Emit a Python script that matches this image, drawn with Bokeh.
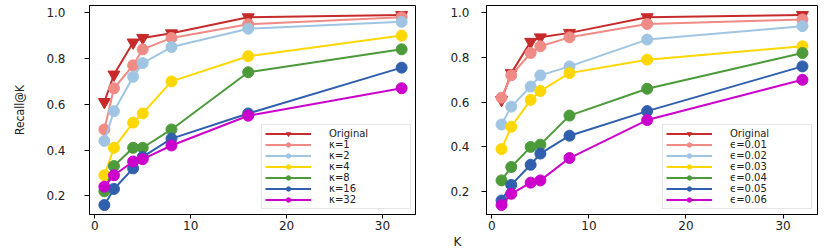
from bokeh.plotting import figure
from bokeh.layouts import row
from bokeh.models import Legend, LegendItem, Title, FixedTicker, Range1d, NumeralTickFormatter
from bokeh.embed import file_html
from bokeh.resources import INLINE

K = [1, 2, 4, 5, 8, 16, 32]

# Left panel (kappa)
left_labels = ["Original", "κ=1", "κ=2", "κ=4", "κ=8", "κ=16", "κ=32"]
left_original = [0.61, 0.73, 0.87, 0.89, 0.91, 0.98, 0.99]
left_k1 = [0.49, 0.67, 0.77, 0.84, 0.89, 0.95, 0.98]
left_k2 = [0.44, 0.57, 0.72, 0.78, 0.85, 0.93, 0.96]
left_k4 = [0.29, 0.41, 0.52, 0.56, 0.70, 0.81, 0.90]
left_k8 = [0.22, 0.33, 0.41, 0.41, 0.49, 0.74, 0.84]
left_k16 = [0.16, 0.23, 0.32, 0.37, 0.45, 0.56, 0.76]
left_k32 = [0.24, 0.29, 0.35, 0.36, 0.42, 0.55, 0.67]

# Right panel (epsilon)
right_labels = ["Original", "ϵ=0.01", "ϵ=0.02", "ϵ=0.03", "ϵ=0.04", "ϵ=0.05", "ϵ=0.06"]
right_original = [0.61, 0.73, 0.87, 0.89, 0.91, 0.98, 0.99]
right_e1 = [0.62, 0.72, 0.82, 0.85, 0.89, 0.95, 0.97]
right_e2 = [0.50, 0.58, 0.67, 0.72, 0.76, 0.88, 0.94]
right_e3 = [0.39, 0.49, 0.61, 0.65, 0.73, 0.79, 0.85]
right_e4 = [0.25, 0.31, 0.40, 0.41, 0.54, 0.66, 0.82]
right_e5 = [0.16, 0.23, 0.32, 0.37, 0.45, 0.56, 0.76]
right_e6 = [0.14, 0.19, 0.24, 0.25, 0.35, 0.52, 0.70]

colors = ["#c62a2a", "#f08a85", "#9fc5e3", "#ffd700", "#4c9a3a", "#2f5fad", "#cc00cc"]
y_ticks = [0.2, 0.4, 0.6, 0.8, 1.0]
x_ticks = [0, 10, 20, 30]

FONT = "DejaVu Sans"


def make_panel(series, labels, width, border_left, border_right, y_range, y_standoff, ylabel=None):
    p = figure(width=width, height=248, output_backend="svg", toolbar_location=None,
               x_range=Range1d(-0.55, 33.55), y_range=Range1d(*y_range),
               min_border_left=border_left, min_border_right=border_right,
               min_border_top=5, min_border_bottom=30)
    p.xgrid.visible = False
    p.ygrid.visible = False
    p.outline_line_color = "black"
    p.outline_line_width = 1
    p.background_fill_color = "white"
    p.border_fill_color = "white"
    for ax in (p.xaxis[0], p.yaxis[0]):
        ax.axis_line_color = "black"
        ax.major_tick_line_color = "black"
        ax.major_tick_out = 5
        ax.major_tick_in = 0
        ax.minor_tick_line_color = None
        ax.major_label_text_font = FONT
        ax.major_label_text_font_size = "12px"
        ax.major_label_text_color = "#222222"
    p.xaxis.ticker = FixedTicker(ticks=x_ticks)
    p.yaxis.ticker = FixedTicker(ticks=y_ticks)
    p.yaxis.formatter = NumeralTickFormatter(format="0.0")
    p.yaxis.major_label_standoff = y_standoff
    p.xaxis.major_label_standoff = 2
    p.xaxis.major_tick_out = 4
    if ylabel:
        p.yaxis.axis_label = ylabel
        p.yaxis.axis_label_text_font = "DejaVu Sans Condensed"
        p.yaxis.axis_label_text_font_style = "normal"
        p.yaxis.axis_label_text_font_size = "12px"
        p.yaxis.axis_label_text_color = "#222222"
        p.yaxis.axis_label_standoff = 16

    items = []
    for i, (ys, lab) in enumerate(zip(series, labels)):
        c = colors[i]
        r1 = p.line(K, ys, line_color=c, line_width=2)
        if i == 0:
            r2 = p.scatter(K, ys, marker="inverted_triangle", size=12, fill_color=c, line_color=c)
        else:
            r2 = p.scatter(K, ys, marker="circle", size=11, fill_color=c, line_color=c)
        items.append(LegendItem(label=lab, renderers=[r1, r2]))
    leg = Legend(items=items, location="bottom_right")
    leg.label_text_font = FONT
    leg.label_text_font_size = "10px"
    leg.label_text_color = "#222222"
    leg.label_height = 11
    leg.glyph_height = 11
    leg.glyph_width = 46
    leg.label_width = 78
    leg.spacing = 0
    leg.padding = 3
    leg.margin = 5
    leg.label_standoff = 18
    leg.border_line_color = "#cccccc"
    leg.background_fill_alpha = 0.85
    p.add_layout(leg)
    return p


left = make_panel([left_original, left_k1, left_k2, left_k4, left_k8, left_k16, left_k32],
                  left_labels, 416, 89, 0, (0.1185, 1.0315), 19, ylabel="Recall@K")
right = make_panel([right_original, right_e1, right_e2, right_e3, right_e4, right_e5, right_e6],
                   right_labels, 409, 70, 8, (0.0975, 1.0325), 12)
right.add_layout(Title(text="K", align="left", offset=-33, text_font=FONT,
                       text_font_size="12px", text_font_style="normal",
                       text_line_height=0.3, text_color="#222222", standoff=0), "below")

layout = row(left, right, spacing=0)
open("out.html", "w").write(file_html(layout, INLINE))
